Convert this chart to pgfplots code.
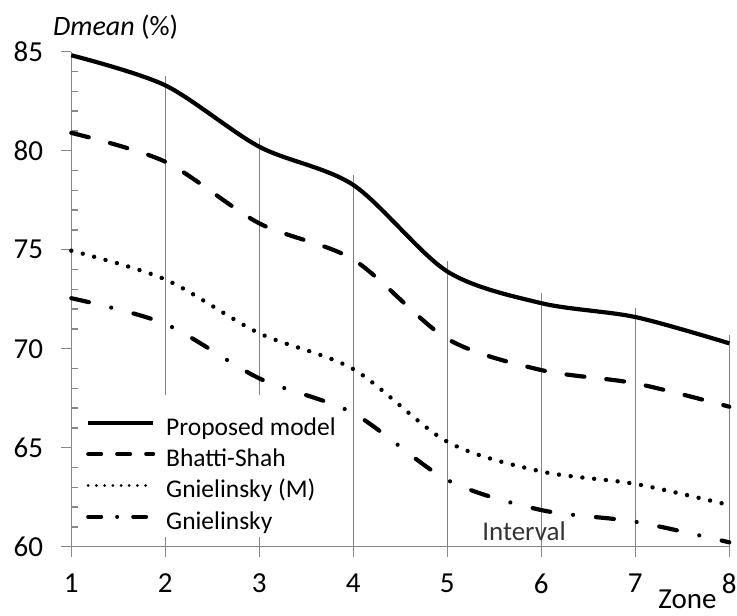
\documentclass[border=0pt]{standalone}
\usepackage{pgfplots}
\pgfplotsset{compat=1.18}
\usepackage{fontspec}
\setmainfont{Carlito}
\newcommand{\cf}{\fontsize{25.5bp}{30bp}\selectfont}
\newcommand{\tf}{\fontsize{29bp}{34bp}\selectfont}
\begin{document}
\begin{tikzpicture}
\path[use as bounding box] (0,0) rectangle (737bp,616bp);
\begin{axis}[
 at={(71.3bp,69.3bp)}, anchor=south west,
 width=658bp, height=495bp, scale only axis,
 xmin=1, xmax=8, ymin=60, ymax=85,
 axis x line*=bottom, axis y line*=left,
 axis line style={-, draw=black!47, line width=1.4bp},
 xtick={1,...,8}, ytick={60,65,...,85},
 minor y tick num=4,
 tick align=inside,
 major tick length=10bp, minor tick length=7bp,
 every tick/.style={draw=black!47, line width=1.4bp},
 major y tick style={xshift=-10bp},
 extra x ticks={1,...,8}, extra x tick labels={},
 extra x tick style={major x tick style={yshift=-10bp}},
 /pgf/number format/assume math mode=true,
 yticklabel style={font=\tf, anchor=east, inner sep=0pt, xshift=-28bp},
 xticklabel style={font=\tf, anchor=north, inner sep=0pt, yshift=-27bp},
 legend style={at={(axis description cs:0.0223,0.264)}, anchor=north west,
   draw=none, fill=none, inner sep=0pt, font=\cf, row sep=6.3bp,
   nodes={inner sep=0pt, text height=19bp, text depth=6bp}},
 legend cell align=left,
 legend image code/.code={\draw[#1] (2bp,6bp) -- (67bp,6bp); \path (78bp,6bp);},
 clip=false,
]
% vertical interval lines
\addplot[draw=black!50, line width=1.3bp, forget plot] coordinates {(2,67.66) (2,83.77)};
\addplot[draw=black!50, line width=1.3bp, forget plot] coordinates {(3,67.66) (3,80.64)};
\addplot[draw=black!50, line width=1.3bp, forget plot] coordinates {(4,60) (4,78.77)};
\addplot[draw=black!50, line width=1.3bp, forget plot] coordinates {(5,60) (5,74.43)};
\addplot[draw=black!50, line width=1.3bp, forget plot] coordinates {(6,60) (6,72.83)};
\addplot[draw=black!50, line width=1.3bp, forget plot] coordinates {(7,60) (7,72.04)};
\addplot[draw=black!50, line width=1.3bp, forget plot] coordinates {(8,60) (8,70.69)};
% curves
\addplot[black, line width=4.2bp, smooth, line join=round, forget plot] coordinates {
(1,84.82) (2,83.3) (3,80.2) (4,78.27) (5,73.9) (6,72.3) (7,71.6) (8,70.27)};
\addplot[black, line width=4.2bp, smooth, line cap=round, dash pattern=on 18bp off 22bp, forget plot] coordinates {
(1,80.9) (2,79.44) (3,76.33) (4,74.5) (5,70.5) (6,68.92) (7,68.25) (8,67.07)};
\addplot[black, line width=4.4bp, smooth, line cap=round, dash pattern=on 0.01bp off 11.8bp, forget plot] coordinates {
(1,74.95) (2,73.5) (3,70.78) (4,68.97) (5,65.3) (6,63.8) (7,63.17) (8,62.1)};
\addplot[black, line width=4.2bp, smooth, line cap=round, dash pattern=on 18bp off 23bp on 0.01bp off 23bp, forget plot] coordinates {
(1,72.55) (2,71.25) (3,68.5) (4,66.74) (5,63.37) (6,61.85) (7,61.26) (8,60.22)};
% legend
\addlegendimage{black, line width=4bp}
\addlegendentry{Proposed model}
\addlegendimage{black, line width=4bp, line cap=round, dash pattern=on 13bp off 16bp}
\addlegendentry{Bhatti-Shah}
\addlegendimage{black, line width=3bp, line cap=round, dash pattern=on 0.01bp off 8.2bp}
\addlegendentry{Gnielinsky (M)}
\addlegendimage{black, line width=4bp, line cap=round, dash pattern=on 13bp off 16bp on 0.01bp off 16bp}
\addlegendentry{Gnielinsky}
\node[font=\fontsize{28bp}{33bp}\selectfont, anchor=base west, inner sep=0pt] at (axis description cs:-0.0278,1.0337) {\textit{Dmean} (\%)};
\node[font=\fontsize{29bp}{34bp}\selectfont, anchor=base east, inner sep=0pt] at (axis description cs:0.981,-0.124) {Zone};
\node[font=\fontsize{27bp}{32bp}\selectfont, anchor=base west, inner sep=0pt, text=black!80] at (axis cs:5.37,60.3) {Interval};
\end{axis}
\end{tikzpicture}
\end{document}
